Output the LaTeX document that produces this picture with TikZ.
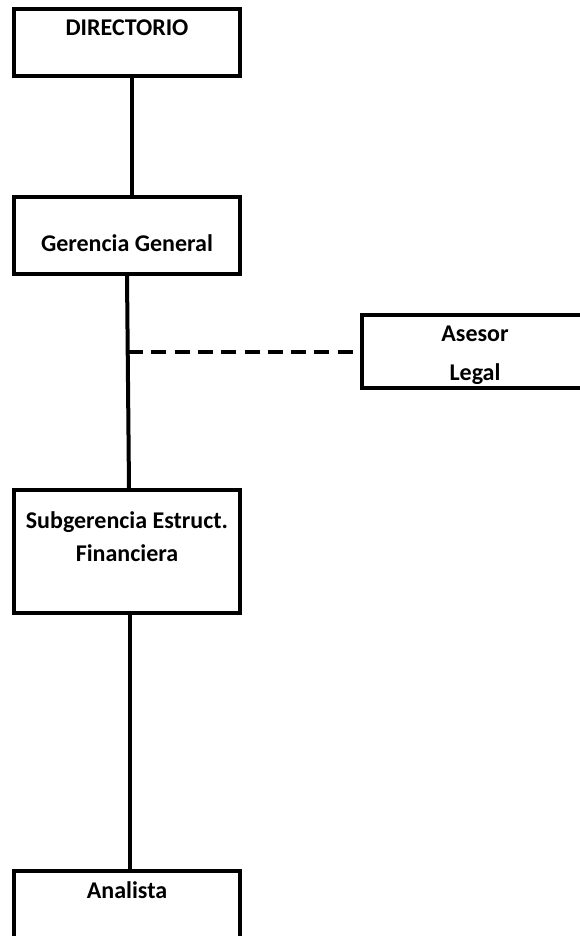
\documentclass[tikz,border=0pt]{standalone}
\usepackage{fontspec}
\setmainfont{Carlito}

\begin{document}
\begin{tikzpicture}[x=1pt,y=-1pt]
        \tikzstyle{every node}=[font=\bfseries\fontsize{24}{28.8}\selectfont]
        \tikzstyle{unit}=[draw, line width=4pt, minimum width=226pt, inner sep=0pt, align=center]
        \tikzstyle{link}=[line width=4pt]
        \useasboundingbox (0,0) rectangle (580,936);

        \node[unit, text height=27pt, text depth=40pt] (directorio) at (127,42.5) {DIRECTORIO};
        \node[unit, text height=54pt, text depth=23pt] (gerencia) at (127,235.5) {Gerencia General};
        \node[unit, text height=65pt, text depth=8pt] (asesor) at (475,351.5) {Asesor\\[10.2pt]Legal};
        \node[unit, text height=71pt, text depth=52pt] (subgerencia) at (127,551.5) {Subgerencia Estruct.\\[4.2pt]Financiera};
        \node[unit, text height=27pt, text depth=70pt] (analista) at (127,919.5) {Analista};

        \draw[link] ([xshift=5pt]directorio.south) -- ([xshift=5pt]gerencia.north);
        \draw[link] (gerencia.south) -- ([xshift=2pt]subgerencia.north);
        \coordinate (asesorjoin) at (128,351.5);
        \draw[link, dash pattern=on 15pt off 8.3pt] (asesorjoin) -- (asesor.west);
        \draw[link] ([xshift=3pt]subgerencia.south) -- ([xshift=3pt]analista.north);
    \end{tikzpicture}
\end{document}
